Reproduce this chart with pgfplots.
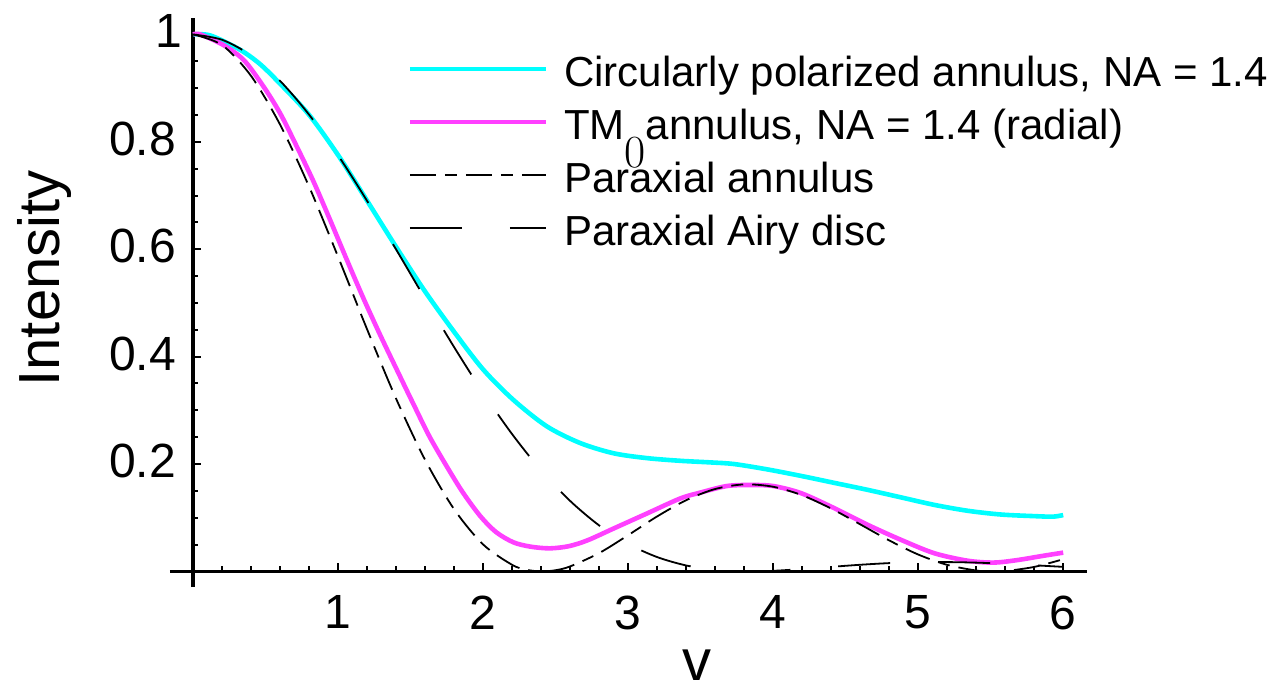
\documentclass[border=0pt]{standalone}
\usepackage{fontspec}
\newfontfamily\lsans{Liberation Sans}
\usepackage{pgfplots}
\pgfplotsset{compat=1.18}
\definecolor{mycyan}{RGB}{0,255,255}
\definecolor{mymag}{RGB}{255,64,255}
\begin{document}
\begin{tikzpicture}
\useasboundingbox (-85pt,-47.5pt) rectangle (555.5pt,293.5pt);
\begin{axis}[
  at={(0,0)}, anchor=south west,
  scale only axis, width=458.56pt, height=284.6pt,
  xmin=-0.16, xmax=6.165, ymin=-0.029, ymax=1.031,
  clip=false,
  axis lines=middle,
  axis line style={-, line width=1.8pt},
  xtick={1,2,3,4,5,6}, xticklabels={1,2,3,4,5,6},
  ytick={0.2,0.4,0.6,0.8,1},
  yticklabels={0.2,0.4,0.6,0.8,1\kern-3pt},
  minor xtick={0.2,0.4,0.6,0.8,1.2,1.4,1.6,1.8,2.2,2.4,2.6,2.8,3.2,3.4,3.6,3.8,4.2,4.4,4.6,4.8,5.2,5.4,5.6,5.8},
  minor ytick={0.05,0.1,0.15,0.25,0.3,0.35,0.45,0.5,0.55,0.65,0.7,0.75,0.85,0.9,0.95},
  tick align=inside,
  major tick length=4pt, minor tick length=2.5pt,
  every tick/.style={black, line width=1pt},
  /pgf/number format/assume math mode=true,
  xticklabel style={font=\lsans\fontsize{24}{24}\selectfont, anchor=north, inner sep=0pt, yshift=-12pt},
  yticklabel style={font=\lsans\fontsize{24}{24}\selectfont, anchor=east, inner sep=0pt, xshift=-8.5pt, yshift=1.5pt},
  xlabel={v}, ylabel={Intensity},
  xlabel style={font=\lsans\fontsize{29}{29}\selectfont, at={(rel axis cs:0.575,-0.165)}, anchor=base},
  ylabel style={font=\lsans\fontsize{29}{29}\selectfont, at={(rel axis cs:-0.1202,0.542)}, anchor=base, rotate=90},
  legend style={draw=none, fill=none, at={(rel axis cs:0.259,0.9464)}, anchor=north west,
    inner sep=0pt, outer sep=0pt, row sep=6pt,
    font=\lsans\fontsize{21}{25}\selectfont,
    nodes={inner sep=0pt, text height=19pt, text depth=1.5pt},
    /tikz/every odd column/.append style={column sep=8pt}},
  legend cell align=left,
  legend image code/.code={\draw[#1] (0pt,0pt) -- (68pt,0pt);},
]
\addplot[mycyan, line width=2.3pt, smooth] coordinates {
(0,1) (0.12,0.998) (0.32,0.972) (0.46,0.945) (0.60,0.908) (0.80,0.850) (1.00,0.775)
(1.20,0.690) (1.40,0.604) (1.60,0.521) (1.80,0.446) (2.00,0.376) (2.21,0.319)
(2.44,0.270) (2.67,0.239) (2.90,0.220) (3.13,0.211)
(3.36,0.206) (3.57,0.203) (3.73,0.200) (3.96,0.190) (4.19,0.178) (4.42,0.165)
(4.65,0.152) (4.88,0.138) (5.11,0.124) (5.34,0.113) (5.57,0.106) (5.80,0.103)
(5.93,0.102) (6.00,0.105)};
\addlegendentry{Circularly polarized annulus, NA = 1.4}
\addplot[mymag, line width=2.3pt, smooth] coordinates {
(0,1.0) (0.05,1.0) (0.21,0.980) (0.35,0.952) (0.485,0.903) (0.60,0.853) (0.715,0.791)
(0.83,0.726) (0.945,0.654) (1.06,0.580) (1.175,0.508) (1.29,0.440) (1.40,0.378)
(1.52,0.311) (1.63,0.251) (1.75,0.195) (1.86,0.147) (1.98,0.103) (2.09,0.073)
(2.21,0.054) (2.33,0.046) (2.46,0.043) (2.59,0.047) (2.72,0.058) (2.90,0.080) (3.13,0.108)
(3.36,0.136) (3.50,0.147) (3.68,0.159) (3.84,0.161) (4.00,0.159) (4.19,0.146)
(4.42,0.118) (4.65,0.087) (4.88,0.059) (5.11,0.034) (5.34,0.020) (5.52,0.0165)
(5.68,0.021) (5.86,0.029) (6.00,0.035)};
\addlegendentry{TM{\normalfont\fontsize{23}{24}\selectfont\raisebox{-14pt}[0pt][0pt]{0}}annulus, NA = 1.4 (radial)}
\addplot[black, line width=0.9pt, smooth, dash pattern=on 13pt off 4.5pt on 6pt off 4.5pt] coordinates {
(0,1) (0.2,0.9801) (0.4,0.9224) (0.6,0.8317) (0.8,0.7162) (1.0,0.5855) (1.2,0.4504)
(1.4,0.3213) (1.6,0.2074) (1.8,0.1156) (2.0,0.0501) (2.2,0.0122) (2.3,0.0031)
(2.4,0.0000) (2.5,0.0023) (2.6,0.0094) (2.8,0.0342) (3.0,0.0676) (3.2,0.1025)
(3.4,0.1327) (3.6,0.1535) (3.8,0.1621) (4.0,0.1577) (4.2,0.1418) (4.4,0.1171)
(4.6,0.0877) (4.8,0.0578) (5.0,0.0315) (5.2,0.0122) (5.4,0.0017) (5.5,0.0000)
(5.6,0.0007) (5.8,0.0084) (6.0,0.0227)};
\addlegendentry{Paraxial annulus}
\addplot[black, line width=0.9pt, smooth, dash pattern=on 26pt off 24pt] coordinates {
(0,1) (0.2,0.9900) (0.4,0.9607) (0.6,0.9133) (0.8,0.8503) (1.0,0.7746) (1.2,0.6897)
(1.4,0.5994) (1.6,0.5075) (1.8,0.4175) (2.0,0.3326) (2.2,0.2555) (2.4,0.1879)
(2.6,0.1312) (2.8,0.0856) (3.0,0.0511) (3.2,0.0267) (3.4,0.0111) (3.6,0.0028)
(3.7,0.0008) (3.8,0.0000) (3.9,0.0002) (4.0,0.0011) (4.2,0.0044) (4.4,0.0085)
(4.6,0.0124) (4.8,0.0155) (5.0,0.0172) (5.2,0.0174) (5.4,0.0164) (5.6,0.0143)
(5.8,0.0115) (6.0,0.0085)};
\addlegendentry{Paraxial Airy disc}
\end{axis}
\end{tikzpicture}
\end{document}
